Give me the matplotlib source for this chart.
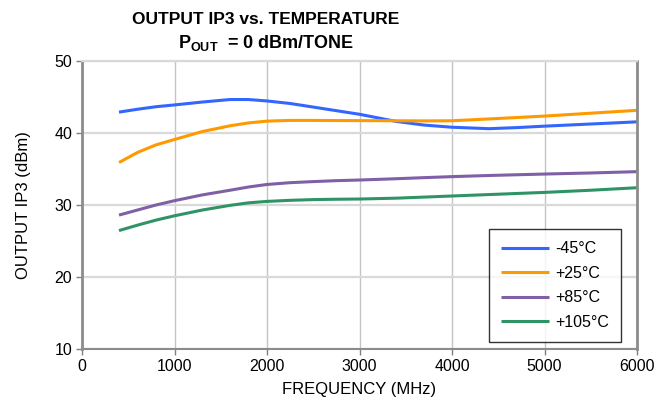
import matplotlib
matplotlib.use("Agg")
import matplotlib.pyplot as plt

plt.rcParams['font.family'] = ['Liberation Sans', 'DejaVu Sans']
plt.rcParams['mathtext.fontset'] = 'custom'
plt.rcParams['mathtext.rm'] = 'Liberation Sans'
plt.rcParams['mathtext.bf'] = 'Liberation Sans:bold'

freq = [400, 600, 800, 1000, 1300, 1600, 1800, 2000, 2250, 2500, 2750, 3000, 3400, 3700, 4000, 4400, 4700, 5000, 5500, 6000]
t_m45 = [42.9, 43.3, 43.65, 43.9, 44.3, 44.65, 44.65, 44.45, 44.1, 43.6, 43.1, 42.6, 41.6, 41.1, 40.8, 40.6, 40.75, 40.95, 41.25, 41.55]
t_p25 = [35.9, 37.3, 38.35, 39.1, 40.2, 41.0, 41.4, 41.65, 41.75, 41.75, 41.73, 41.72, 41.7, 41.68, 41.7, 41.95, 42.15, 42.35, 42.75, 43.15]
t_p85 = [28.6, 29.3, 30.0, 30.6, 31.4, 32.05, 32.5, 32.85, 33.1, 33.25, 33.38, 33.47, 33.65, 33.8, 33.94, 34.1, 34.2, 34.3, 34.45, 34.63]
t_p105 = [26.45, 27.2, 27.9, 28.5, 29.3, 29.95, 30.3, 30.5, 30.65, 30.75, 30.8, 30.83, 30.95, 31.1, 31.25, 31.45, 31.6, 31.75, 32.05, 32.4]

series = [("-45°C", t_m45, "#3366FF"),
          ("+25°C", t_p25, "#FF9900"),
          ("+85°C", t_p85, "#7F5FA5"),
          ("+105°C", t_p105, "#2E9466")]

xticks = [0, 1000, 2000, 3000, 4000, 5000, 6000]
yticks = [10, 20, 30, 40, 50]

fig = plt.figure(figsize=(6.62, 4.05), dpi=100)
ax = fig.add_axes([82/662, 56/405, (637-82)/662, (349-61)/405])

for label, vals, col in series:
    ax.plot(freq, vals, color=col, lw=2.2, label=label, solid_capstyle='butt')

ax.set_xlim(0, 6000)
ax.set_ylim(10, 50)
ax.set_xticks(xticks)
ax.set_yticks(yticks)
ax.tick_params(labelsize=11.5, length=4, width=1, color='#808080', direction='out', pad=3)

ax.xaxis.grid(True, color='#C4C4C4', lw=1.0)
ax.yaxis.grid(True, color='#D9D9D9', lw=1.6)
ax.set_axisbelow(True)

for side in ['left', 'bottom', 'right']:
    ax.spines[side].set_color('#8C8C8C')
    ax.spines[side].set_linewidth(2.0)
ax.spines['bottom'].set_linewidth(1.5)
ax.spines['top'].set_color('#D9D9D9')
ax.spines['top'].set_linewidth(1.6)

ax.set_xlabel("FREQUENCY (MHz)", fontsize=12, labelpad=6)
ax.set_ylabel("OUTPUT IP3 (dBm)", fontsize=12, labelpad=17)

leg = ax.legend(loc='lower right', bbox_to_anchor=(621/662, (405-342)/405),
                bbox_transform=fig.transFigure, frameon=True, fancybox=False,
                edgecolor='black', fontsize=11.5, handlelength=3.0,
                labelspacing=0.6, borderpad=0.75, handletextpad=0.4,
                borderaxespad=0)
leg.get_frame().set_linewidth(1.0)

fig.text(266/662, 1 - 19/405, "OUTPUT IP3 vs. TEMPERATURE", ha='center', va='center',
         fontsize=12.5, fontweight='bold')
fig.text(266/662, 1 - 43/405, r"$\mathbf{P}_{\mathbf{OUT}}$  = 0 dBm/TONE", ha='center',
         va='center', fontsize=13, fontweight='bold')

fig.savefig("out.png", dpi=100)
